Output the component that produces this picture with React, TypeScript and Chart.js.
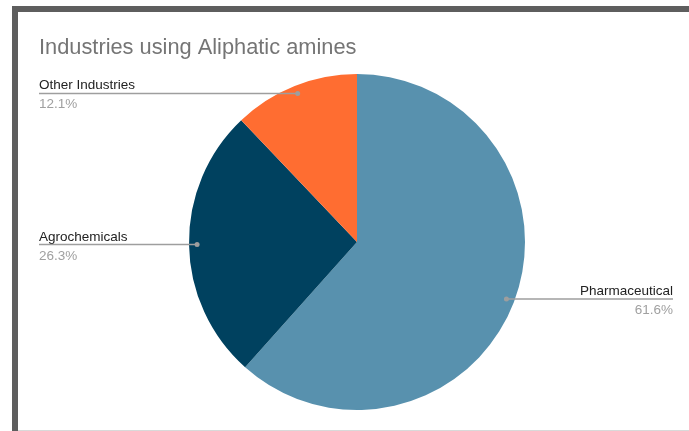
import React, { useEffect, useRef } from "react";
import { Chart, registerables } from "chart.js";

Chart.register(...registerables);

const categories = ["Pharmaceutical", "Agrochemicals", "Other Industries"];
const values = [61.6, 26.3, 12.1];
const percentLabels = ["61.6%", "26.3%", "12.1%"];
const colors = ["#5891ae", "#00415f", "#ff6d31"];
const titleText = "Industries using Aliphatic amines";

const FONT = "'Liberation Sans', Arial, sans-serif";

const framePlugin = {
  id: "frame",
  beforeDraw(chart: any) {
    const ctx = chart.ctx;
    ctx.save();
    ctx.fillStyle = "#ffffff";
    ctx.fillRect(0, 0, chart.width, chart.height);
    ctx.fillStyle = "#5e5e5e";
    ctx.fillRect(12, 6, chart.width - 12, 6);
    ctx.fillRect(12, 6, 6, chart.height - 6);
    ctx.fillStyle = "#d9d9d9";
    ctx.fillRect(18, chart.height - 1, chart.width - 18, 1);
    ctx.fillStyle = "#757575";
    ctx.font = `21.8px ${FONT}`;
    ctx.textBaseline = "alphabetic";
    ctx.textAlign = "left";
    ctx.fillText(titleText, 39, 54);
    ctx.restore();
  },
};

const labelPlugin = {
  id: "leaderLabels",
  afterDraw(chart: any) {
    const ctx = chart.ctx;
    const meta = chart.getDatasetMeta(0);
    ctx.save();
    meta.data.forEach((arc: any, i: number) => {
      const { x, y, startAngle, endAngle, outerRadius } = arc.getProps(
        ["x", "y", "startAngle", "endAngle", "outerRadius"],
        true
      );
      const mid = (startAngle + endAngle) / 2;
      const r = outerRadius * 0.952;
      const px = x + Math.cos(mid) * r;
      const py = y + Math.sin(mid) * r;
      const right = px > x;
      const edge = right ? 673 : 39;
      ctx.strokeStyle = "#9e9e9e";
      ctx.lineWidth = 1.3;
      ctx.beginPath();
      ctx.moveTo(px, py);
      ctx.lineTo(edge, py);
      ctx.stroke();
      ctx.fillStyle = "#9e9e9e";
      ctx.beginPath();
      ctx.arc(px, py, 2.5, 0, Math.PI * 2);
      ctx.fill();
      ctx.textAlign = right ? "right" : "left";
      ctx.textBaseline = "alphabetic";
      ctx.font = `13.5px ${FONT}`;
      ctx.fillStyle = "#222222";
      ctx.fillText(categories[i], edge, py - 4);
      ctx.fillStyle = "#a0a0a0";
      ctx.fillText(percentLabels[i], edge, py + 15);
    });
    ctx.restore();
  },
};

export default function App() {
  const ref = useRef<HTMLCanvasElement | null>(null);
  useEffect(() => {
    document.body.style.margin = "0";
    const chart = new Chart(ref.current as HTMLCanvasElement, {
      type: "pie",
      data: {
        labels: categories,
        datasets: [
          {
            data: values,
            backgroundColor: colors,
            borderWidth: 0,
          },
        ],
      },
      options: {
        animation: false,
        responsive: false,
        maintainAspectRatio: false,
        layout: { padding: { top: 74, bottom: 21, left: 100, right: 75 } },
        plugins: {
          legend: { display: false },
          title: { display: false },
          tooltip: { enabled: false },
        },
      },
      plugins: [framePlugin, labelPlugin],
    });
    return () => chart.destroy();
  }, []);
  return (
    <div style={{ width: 689, height: 431 }}>
      <canvas ref={ref} width={689} height={431} style={{ display: "block" }} />
    </div>
  );
}
